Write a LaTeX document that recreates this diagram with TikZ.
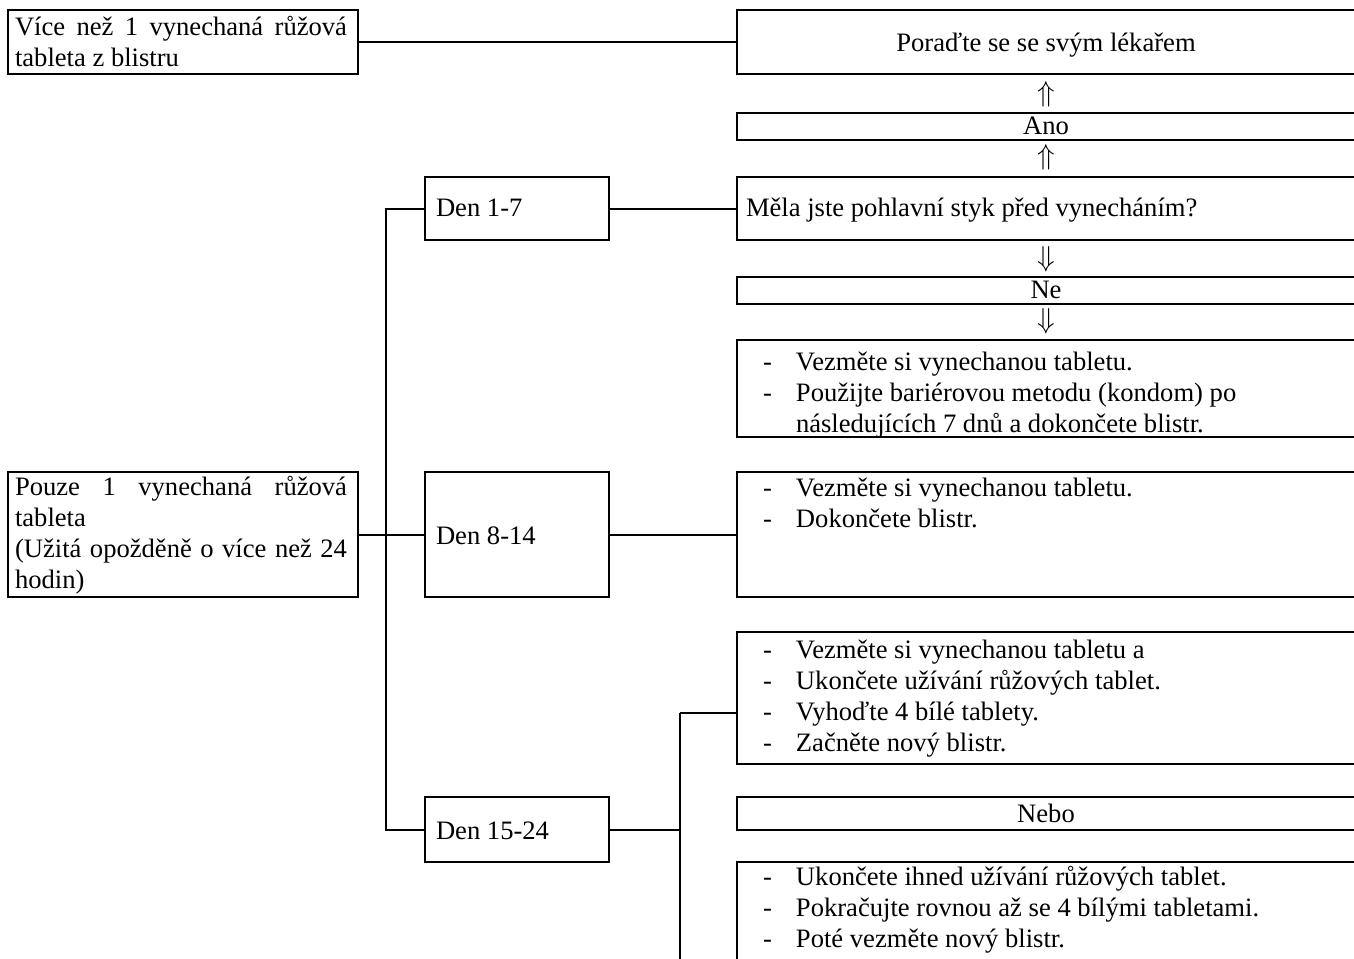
\documentclass[tikz,border=0pt]{standalone}
\usepackage{fontspec}
\setmainfont{Liberation Serif}
\usetikzlibrary{calc}
\newcommand\mkbox[5]{\node[box,minimum width={(#4-#2)*0.5pt},minimum height={(#5-#3)*0.5pt}] (#1) at (#2,#3) {};}
\newcommand\fst{\rule{0pt}{13pt}}
\newcommand\itm[1]{\makebox[16.5pt][l]{-}#1}
\begin{document}
\begin{tikzpicture}[x=0.5pt,y=-0.5pt,line width=1pt,
  box/.style={draw,rectangle,inner sep=0pt,outer sep=0pt,anchor=north west},
  txt/.style={inner sep=0pt,anchor=north west,align=left,font=\fontsize{13.3}{15.5}\selectfont},
  jtxt/.style={txt,text width=166pt,align=justify},
  ctxt/.style={inner sep=0pt,anchor=base,font=\fontsize{13.3}{15.5}\selectfont},
  conn/.style={line width=1pt}]
\useasboundingbox (0,0) rectangle (1354,958);
\clip (0,0) rectangle (1354,958);
% left boxes
\mkbox{more}{8}{10}{358}{74}
\mkbox{one}{8}{472}{358}{597}
% day boxes
\mkbox{d17}{425}{177}{609}{240}
\mkbox{d814}{425}{472}{609}{597}
\mkbox{d1524}{425}{797}{609}{862}
% right boxes (cut off at the right edge)
\mkbox{doc}{737}{10}{1360}{74}
\mkbox{ano}{737}{113}{1360}{140}
\mkbox{q}{737}{177}{1360}{240}
\mkbox{ne}{737}{277}{1360}{304}
\mkbox{r17}{737}{340}{1360}{437}
\mkbox{r814}{737}{472}{1360}{597}
\mkbox{r1524a}{737}{632}{1360}{764}
\mkbox{nebo}{737}{797}{1360}{830}
\mkbox{r1524b}{737}{862}{1360}{1000}
% texts
\node[jtxt] (tmore) at (14,8) {\fst Více než 1 vynechaná růžová\linebreak tableta z blistru};
\node[jtxt] (tone) at (14,468) {\fst Pouze 1 vynechaná růžová\linebreak tableta\\(Užitá opožděně o více než 24\linebreak hodin)};
\node[ctxt] (tdoc) at (1046,51) {Poraďte se se svým lékařem};
\node[ctxt] (up1) at (1046,101) {$\Uparrow$};
\node[ctxt] (tano) at (1046,134) {Ano};
\node[ctxt] (up2) at (1046,164) {$\Uparrow$};
\node[txt,anchor=base west] (tq) at (745,216) {Měla jste pohlavní styk před vynecháním?};
\node[txt,anchor=base west] (td17) at (435,216) {Den 1-7};
\node[ctxt] (dn1) at (1046,266) {$\Downarrow$};
\node[ctxt] (tne) at (1046,298) {Ne};
\node[ctxt] (dn2) at (1046,328) {$\Downarrow$};
\node[txt] (tr17) at (762,343) {\fst\itm{Vezměte si vynechanou tabletu.}\\\itm{Použijte bariérovou metodu (kondom) po}\\\hspace*{16.5pt}následujících 7 dnů a dokončete blistr.};
\node[txt,anchor=base west] (td814) at (435,544) {Den 8-14};
\node[txt] (tr814) at (762,469) {\fst\itm{Vezměte si vynechanou tabletu.}\\\itm{Dokončete blistr.}};
\node[txt] (tr1524a) at (762,631) {\fst\itm{Vezměte si vynechanou tabletu a}\\\itm{Ukončete užívání růžových tablet.}\\\itm{Vyhoďte 4 bílé tablety.}\\\itm{Začněte nový blistr.}};
\node[txt,anchor=base west] (td1524) at (435,839) {Den 15-24};
\node[ctxt] (tnebo) at (1046,822) {Nebo};
\node[txt] (tr1524b) at (762,858) {\fst\itm{Ukončete ihned užívání růžových tablet.}\\\itm{Pokračujte rovnou až se 4 bílými tabletami.}\\\itm{Poté vezměte nový blistr.}};
% connectors
\coordinate (fork) at ($(d1524.east)+(71,0)$);
\coordinate (forka) at (fork |- 0,713);
\coordinate (forkb) at (fork |- 0,1000);
\draw[conn] (more.east) -- (doc.west);
\draw[conn] (d17.east) -- (q.west);
\draw[conn] (d814.east) -- (r814.west);
\draw[conn] (one.east) -- (d814.west);
\draw[conn] (d17.west) -- ++(-39,0) |- (d1524.west);
\draw[conn] (d1524.east) -- (fork);
\draw[conn] (forka) -- (forkb);
\draw[conn] (forka) -- (r1524a.west |- forka);
\end{tikzpicture}
\end{document}
